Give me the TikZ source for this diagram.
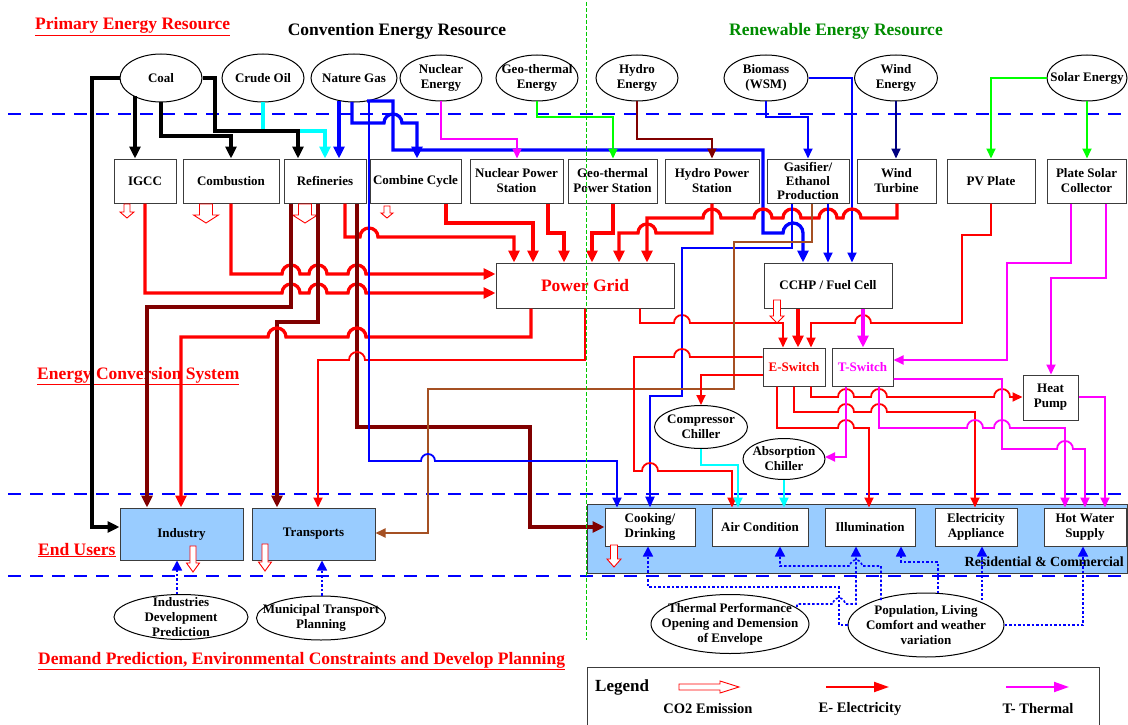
\documentclass[tikz,border=0pt]{standalone}
\usepackage{fontspec}
\setmainfont{Liberation Serif}
\usetikzlibrary{arrows.meta,shapes.geometric}
\definecolor{cred}{RGB}{255,0,0}
\definecolor{cmag}{RGB}{255,0,255}
\definecolor{ccyan}{RGB}{0,255,255}
\definecolor{cgreen}{RGB}{0,255,0}
\definecolor{dgreen}{RGB}{0,140,0}
\definecolor{cmaroon}{RGB}{128,0,0}
\definecolor{cbrown}{RGB}{165,80,35}
\definecolor{cnavy}{RGB}{0,0,128}
\definecolor{cblue}{RGB}{0,0,255}
\definecolor{lblue}{RGB}{153,204,255}
\definecolor{vgreen}{RGB}{0,200,0}
\definecolor{bordergray}{RGB}{60,60,60}
\newcommand\hr[3]{-- ({#1-#3},#2) arc[start angle=180,end angle=0,radius=#3pt]}
\newcommand\hl[3]{-- ({#1+#3},#2) arc[start angle=0,end angle=180,radius=#3pt]}
\newcommand\cotwo[6]{\draw[cotwo] ({#1-#4},#2) -- ({#1+#4},#2) -- ({#1+#4},{#3-#6}) -- ({#1+#5},{#3-#6}) -- (#1,#3) -- ({#1-#5},{#3-#6}) -- ({#1-#4},{#3-#6}) -- cycle;}
\newcommand\ellnode[6]{\node[ell,minimum width=#4pt,minimum height=#5pt] (#1) at (#2,#3) {};\node[lbl] at (#1.center) {#6};}
\begin{document}
\begin{tikzpicture}[x=1pt,y=-1pt,
  lbl/.style={font=\bfseries\fontsize{13}{15}\selectfont, align=center, inner sep=0pt},
  box/.style={lbl, draw=bordergray, line width=1pt, fill=white},
  ubox/.style={box, fill=lblue},
  ell/.style={ellipse, draw=black, line width=1pt, fill=white, inner sep=0pt},
  sec/.style={font=\bfseries\fontsize{17.5}{20}\selectfont, text=cred, anchor=base west, inner sep=0pt},
  ttl/.style={font=\bfseries\fontsize{17.5}{20}\selectfont, anchor=base, inner sep=0pt},
  tk/.style={line width=3.3pt, -{Triangle[length=12pt,width=11pt]}},
  tm/.style={line width=2.4pt, -{Triangle[length=11pt,width=9pt]}},
  tn/.style={line width=1.8pt, -{Triangle[length=10pt,width=9pt]}},
  dotb/.style={cblue, line width=1.6pt, dash pattern=on 2.5pt off 2pt, -{Triangle[length=10pt,width=10pt]}},
  cotwo/.style={draw=cred, line width=0.9pt, fill=white},
  sep/.style={cblue, line width=1.7pt, dash pattern=on 13pt off 9pt}
]
\fill[white] (0,0) rectangle (1128,725);
\useasboundingbox (0,0) rectangle (1128,725);

% separators
\draw[sep] (8,114) -- (1128,114);
\draw[sep] (8,494) -- (1128,494);
\draw[sep] (8,576) -- (1128,576);

% titles
\node[sec] at (35,30) {\underline{Primary Energy Resource}};
\node[ttl] at (397,36) {Convention Energy Resource};
\node[ttl, text=dgreen] at (836,36) {Renewable Energy Resource};
\node[sec] at (37,379) {\underline{Energy Conversion System}};
\node[sec] at (38,555) {\underline{End Users}};
\node[sec] at (38,664) {\underline{Demand Prediction, Environmental Constraints and Develop Planning}};

% residential area
\node[ubox, minimum width=540pt, minimum height=69pt] (resid) at (857,538.5) {};
\node[lbl, anchor=east, font=\bfseries\fontsize{14}{16}\selectfont] at (1124,562) {Residential \& Commercial};

% primary resources
\ellnode{coal}{161}{78}{82}{48}{Coal}
\ellnode{crude}{263}{78}{82}{48}{Crude Oil}
\ellnode{ngas}{354}{78}{86}{48}{Nature Gas}
\ellnode{nuc}{441}{78}{82}{46}{Nuclear\\Energy}
\ellnode{geo}{537}{78}{82}{46}{Geo-thermal\\Energy}
\ellnode{hydro}{637}{78}{82}{46}{Hydro\\Energy}
\ellnode{bio}{766}{78}{84}{46}{Biomass\\(WSM)}
\ellnode{wind}{896}{78}{83}{46}{Wind\\Energy}
\ellnode{solar}{1087}{78}{80}{46}{Solar Energy}

% conversion boxes
\node[box, minimum width=62pt, minimum height=44pt] (igcc) at (145,181) {IGCC};
\node[box, minimum width=96pt, minimum height=44pt] (comb) at (231,181) {Combustion};
\node[box, minimum width=82pt, minimum height=44pt] (refin) at (325,181) {Refineries};
\node[box, minimum width=91pt, minimum height=44pt] (ccycle) at (415.5,181) {Combine Cycle};
\node[box, minimum width=93pt, minimum height=44pt] (nps) at (516.5,181) {Nuclear Power\\Station};
\node[box, minimum width=89pt, minimum height=44pt] (gps) at (612.5,181) {Geo-thermal\\Power Station};
\node[box, minimum width=94pt, minimum height=44pt] (hps) at (712,181) {Hydro Power\\Station};
\node[box, minimum width=82pt, minimum height=44pt, font=\bfseries\fontsize{13}{14}\selectfont] (gasif) at (808,181) {Gasifier/\\Ethanol\\Production};
\node[box, minimum width=79pt, minimum height=44pt] (wturb) at (896.5,181) {Wind\\Turbine};
\node[box, minimum width=88pt, minimum height=44pt] (pv) at (991,181) {PV Plate};
\node[box, minimum width=79pt, minimum height=44pt] (psc) at (1086.5,181) {Plate Solar\\Collector};

\node[box, minimum width=178pt, minimum height=45pt, text=cred, font=\bfseries\fontsize{17.5}{20}\selectfont] (grid) at (585,285.5) {Power Grid};
\node[box, minimum width=128pt, minimum height=45pt] (cchp) at (828,285.5) {CCHP / Fuel Cell};
\node[box, minimum width=62pt, minimum height=38pt, text=cred] (esw) at (794,367) {E-Switch};
\node[box, minimum width=61pt, minimum height=38pt, text=cmag] (tsw) at (862.5,367) {T-Switch};
\node[box, minimum width=55pt, minimum height=45pt] (hpump) at (1050.5,397.5) {Heat\\Pump};
\ellnode{comp}{701}{427}{93}{43}{Compressor\\Chiller}
\ellnode{absch}{784}{459}{82}{41}{Absorption\\Chiller}

% end users
\node[ubox, minimum width=123pt, minimum height=52pt] (industry) at (181.5,534) {Industry};
\node[ubox, minimum width=123pt, minimum height=52pt] (transp) at (313.5,534) {Transports};
\node[box, minimum width=90pt, minimum height=38pt] (cook) at (650,527) {Cooking/\\Drinking};
\node[box, minimum width=96pt, minimum height=38pt] (aircon) at (760,527) {Air Condition};
\node[box, minimum width=90pt, minimum height=38pt] (illum) at (870,527) {Illumination};
\node[box, minimum width=82pt, minimum height=38pt] (elec) at (976,527) {Electricity\\Appliance};
\node[box, minimum width=82pt, minimum height=38pt] (hotw) at (1085,527) {Hot Water\\Supply};

% demand prediction
\ellnode{idp}{181}{617}{134}{45}{Industries\\Development\\Prediction}
\ellnode{mtp}{321}{618}{129}{44}{Municipal Transport\\Planning}
\ellnode{thermal}{730}{624}{158}{59}{Thermal Performance\\Opening and Demension\\of Envelope}
\ellnode{popul}{926}{625}{156}{64}{Population, Living\\Comfort and weather\\variation}

% CO2 emission arrows
\cotwo{127}{204}{218}{3}{7}{6}
\cotwo{206}{204}{223}{6.5}{12.5}{8}
\cotwo{305}{204}{223}{6.5}{12.5}{8}
\cotwo{387}{206}{218}{3}{6}{5}
\cotwo{777}{300}{323}{3.5}{7}{7}
\cotwo{193}{546}{572}{3}{6.5}{9}
\cotwo{265}{544}{571}{3}{6.5}{9}
\cotwo{614}{545}{567}{3.5}{7}{8}

% ---- primary -> conversion
\draw[tk, ccyan] (crude.south) -- (263,131) -- (325,131) -- (325,0 |- refin.north);
\draw[tk] (coal.west) -- (92,78) -- (92,527) -- (industry.west |- 0,527);
\draw[tk] (135,96) -- (135,0 |- igcc.north);
\draw[tk] (coal.south) -- (161,136) -- (231,136) -- (comb.north);
\draw[tk] (coal.east) -- (215,78) -- (215,131) -- (298,131) -- (298,0 |- refin.north);

\draw[tk, cblue] (339,101) -- (339,0 |- refin.north);
\draw[tk, cblue] (367,101) -- (393,101) -- (393,150) -- (763,150) -- (763,233) -- (783,233) arc[start angle=180,end angle=0,radius=10pt] -- (803,0 |- cchp.north);
\draw[tk, cblue] (352,102) -- (352,123) \hr{393}{123}{9} -- (417,123) -- (417,0 |- ccycle.north);

\draw[tn, cmag] (nuc.south) -- (441,139) -- (517,139) -- (517,0 |- nps.north);
\draw[tn, cgreen] (geo.south) -- (537,117) -- (613,117) -- (613,0 |- gps.north);
\draw[tn, cmaroon] (hydro.south) -- (637,139) -- (712,139) -- (hps.north);
\draw[tn, cblue] (bio.south) -- (766,117) -- (808,117) -- (gasif.north);
\draw[tn, cblue] (bio.east) -- (852,78) -- (852,0 |- cchp.north);
\draw[tn, cnavy] (896,0 |- wind.south) -- (896,0 |- wturb.north);
\draw[tn, cgreen] (solar.west) -- (991,78) -- (pv.north);
\draw[tn, cgreen] (solar.south) -- (1087,0 |- psc.north);

% ---- into the power grid
\draw[tk, cred] (igcc.south) -- (145,293) \hr{291}{293}{9} \hr{318}{293}{9} \hr{357}{293}{9} -- (grid.west |- 0,293);
\draw[tk, cred] (comb.south) -- (231,274) \hr{291}{274}{9} \hr{318}{274}{9} \hr{357}{274}{9} -- (grid.west |- 0,274);
\draw[tk, cred] (345,0 |- refin.south) -- (345,237) \hr{369}{237}{9} -- (514,237) -- (514,0 |- grid.north);
\draw[tk, cred] (446,0 |- ccycle.south) -- (446,223) -- (533,223) -- (533,0 |- grid.north);
\draw[tk, cred] (548,0 |- nps.south) -- (548,233) -- (564,233) -- (564,0 |- grid.north);
\draw[tk, cred] (613,0 |- gps.south) -- (613,233) -- (592,233) -- (592,0 |- grid.north);
\draw[tk, cred] (hps.south) -- (712,233) \hl{647}{233}{9} -- (619,233) -- (619,0 |- grid.north);
\draw[tk, cred] (897,0 |- wturb.south) -- (897,218) \hl{852}{218}{9} \hl{828}{218}{9} \hl{792}{218}{9} \hl{763}{218}{9} \hl{712}{218}{9} -- (647,218) -- (647,0 |- grid.north);

% ---- refineries to users
\draw[tk, cmaroon] (291,0 |- refin.south) -- (291,307) -- (147,307) -- (147,0 |- industry.north);
\draw[tk, cmaroon] (318,0 |- refin.south) -- (318,322) -- (277,322) -- (277,0 |- transp.north);
\draw[tk, cmaroon] (357,0 |- refin.south) -- (357,427) -- (530,427) -- (530,527) -- (cook.west |- 0,527);

% ---- power grid outputs
\draw[tk, cred] (531,0 |- grid.south) -- (531,337) \hl{357}{337}{9} \hl{277}{337}{9} -- (181,337) -- (181,0 |- industry.north);
\draw[tn, cred] (585,0 |- grid.south) -- (585,360) \hl{357}{360}{8} -- (318,360) -- (318,0 |- transp.north);
\draw[tn, cred] (640,0 |- grid.south) -- (640,323) \hr{682}{323}{8} -- (783,323) -- (783,0 |- esw.north);
\draw[tn, cred] (pv.south) -- (991,235) -- (962,235) -- (962,323) \hl{863}{323}{8} -- (811,323) -- (811,0 |- esw.north);
\draw[tk, cred] (798,0 |- cchp.south) -- (798,0 |- esw.north);
\draw[tk, cmag] (863,0 |- cchp.south) -- (863,0 |- tsw.north);

% ---- solar collector
\draw[tn, cmag] (1071,0 |- psc.south) -- (1071,263) -- (1007,263) -- (1007,360) -- (tsw.east |- 0,360);
\draw[tn, cmag] (1106,0 |- psc.south) -- (1106,278) -- (1051,278) -- (1051,0 |- hpump.north);

% ---- gasifier outputs
\draw[tm, cblue] (792,0 |- gasif.south) -- (792,248) -- (682,248) -- (682,396) -- (650,396) -- (650,0 |- cook.north);
\draw[tn, cbrown] (812,0 |- gasif.south) -- (812,242) -- (734,242) -- (734,389) -- (428,389) -- (428,533) -- (transp.east |- 0,533);
\draw[tn, cblue] (828,0 |- gasif.south) -- (828,0 |- cchp.north);
\draw[tn, cblue] (369,101) -- (369,461) \hr{428}{461}{7} -- (617,461) -- (617,0 |- cook.north);

% ---- E-switch outputs
\draw[tn, cred] (esw.west |- 0,357) \hl{682}{357}{8} -- (634,357) -- (634,471) \hr{650}{471}{8} -- (732,471) -- (732,0 |- aircon.north);
\draw[tn, cred] (esw.west |- 0,375) -- (701,375) -- (comp.north);
\draw[tn, cred] (777,0 |- esw.south) -- (777,428) \hr{846}{428}{8} -- (869,428) -- (869,0 |- illum.north);
\draw[tn, cred] (794,0 |- esw.south) -- (794,412) \hr{846}{412}{8} \hr{879}{412}{8} -- (975,412) -- (975,0 |- elec.north);
\draw[tn, cred] (811,0 |- esw.south) -- (811,397) \hr{846}{397}{8} \hr{879}{397}{8} \hr{1002}{397}{8} -- (hpump.west |- 0,397);

% ---- T-switch outputs
\draw[tn, cmag] (846,0 |- tsw.south) -- (846,457) -- (825,457);
\draw[tn, cmag] (879,0 |- tsw.south) -- (879,428) \hr{975}{428}{8} \hr{1002}{428}{8} -- (1065,428) -- (1065,0 |- hotw.north);
\draw[tn, cmag] (tsw.east |- 0,379) -- (1002,379) -- (1002,449) \hr{1065}{449}{8} -- (1085,449) -- (1085,0 |- hotw.north);
\draw[tn, cmag] (hpump.east |- 0,397) -- (1105,397) -- (1105,0 |- hotw.north);

% ---- chillers
\draw[tn, ccyan] (comp.south) -- (701,465) -- (738,465) -- (738,0 |- aircon.north);
\draw[tn, ccyan] (absch.south) -- (784,0 |- aircon.north);

% ---- demand prediction (dotted)
\draw[dotb] (177,0 |- idp.north) -- (177,0 |- industry.south);
\draw[dotb] (322,0 |- mtp.north) -- (322,0 |- transp.south);
\draw[dotb] (popul.west) -- (839,625) -- (839,587) -- (648,587) -- (648,0 |- cook.south);
\draw[dotb] (797,607) -- (797,604) \hr{839}{604}{6} -- (856,604) -- (856,0 |- illum.south);
\draw[dotb] (881,600) -- (881,566) \hl{856}{566}{6} -- (780,566) -- (780,0 |- aircon.south);
\draw[dotb] (938,593) -- (938,562) -- (901,562) -- (901,0 |- illum.south);
\draw[dotb] (982,600) -- (982,0 |- elec.south);
\draw[dotb] (popul.east) -- (1083,625) -- (1083,0 |- hotw.south);

% green divider
\draw[vgreen, line width=0.8pt, dash pattern=on 4pt off 2pt] (586,2) -- (586,640);

% legend
\draw[line width=1pt, draw=bordergray] (587,667) rectangle (1099,740);
\node[anchor=west, inner sep=0pt, font=\bfseries\fontsize{17}{20}\selectfont] (legend) at (595,687) {Legend};
\draw[cotwo] (679,684) -- (720,684) -- (720,681) -- (739,687) -- (720,693) -- (720,690) -- (679,690) -- cycle;
\coordinate (e1) at (826,687); \coordinate (e2) at (889,687);
\coordinate (t1) at (1006,687); \coordinate (t2) at (1069,687);
\draw[cred, line width=2pt, -{Triangle[length=15pt,width=10pt]}] (e1) -- (e2);
\draw[cmag, line width=2pt, -{Triangle[length=15pt,width=10pt]}] (t1) -- (t2);
\node[lbl, font=\bfseries\fontsize{14.5}{16}\selectfont] at (708,709) {CO2 Emission};
\node[lbl, font=\bfseries\fontsize{14.5}{16}\selectfont] at (860,709) {E- Electricity};
\node[lbl, font=\bfseries\fontsize{14.5}{16}\selectfont] at (1038,709) {T- Thermal};
\end{tikzpicture}
\end{document}
